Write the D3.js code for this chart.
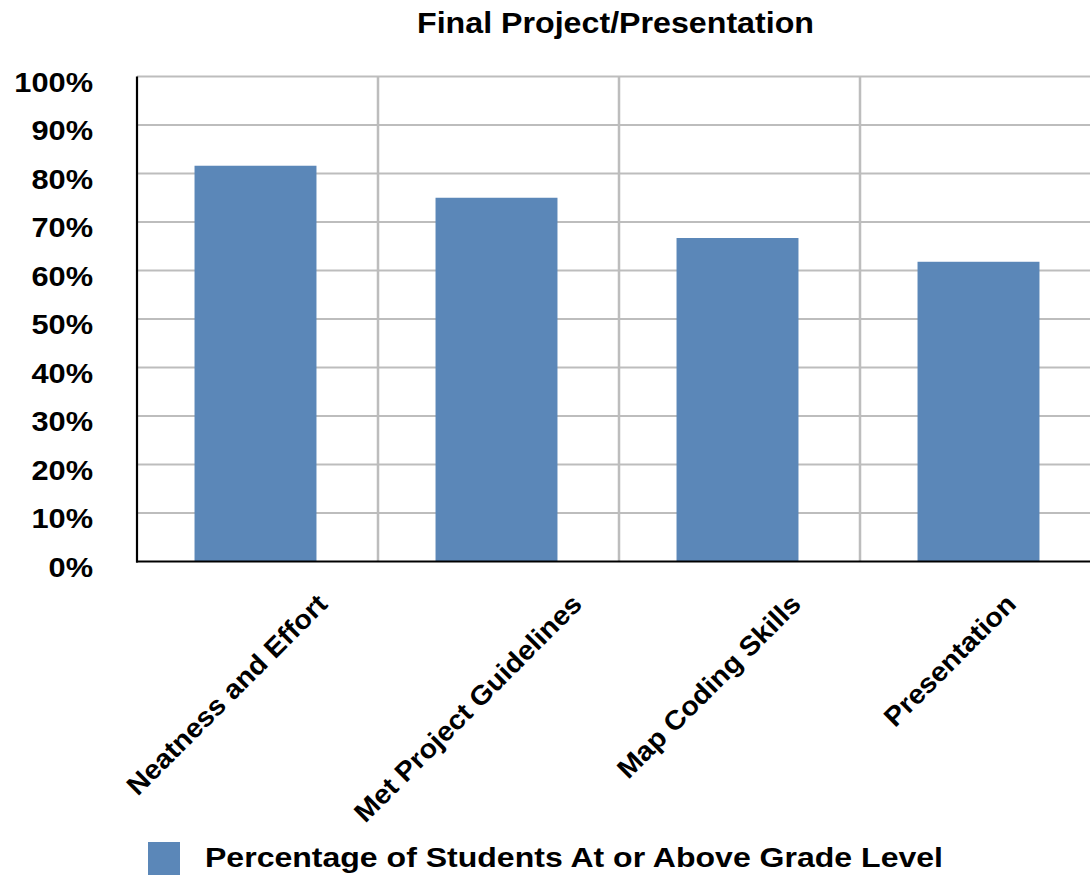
<!DOCTYPE html>
<html>
<head>
<meta charset="utf-8">
<script src="https://cdn.jsdelivr.net/npm/d3@7"></script>
<style>
  html, body { margin: 0; padding: 0; background: #fff; }
  svg { display: block; font-family: "Liberation Sans", Arial, Helvetica, sans-serif; font-weight: bold; }
</style>
</head>
<body>
<svg id="chart" width="1090" height="875"></svg>
<script>
// Final project results by criterion
const categories = ["Neatness and Effort", "Met Project Guidelines", "Map Coding Skills", "Presentation"];
const values = [81.6, 75, 66.7, 61.8];
const yTicks = [0, 10, 20, 30, 40, 50, 60, 70, 80, 90, 100];
const seriesName = "Percentage of Students At or Above Grade Level";
const chartTitle = "Final Project/Presentation";

const W = 1090, H = 875;
const plotLeft = 137, plotTop = 76.5, plotBottom = 561.5, step = 241;
const plotRight = plotLeft + step * categories.length;
const barColor = "#5b87b8";
const gridColor = "#bdbdbd";

const svg = d3.select("#chart");

// Category bands (gridlines sit on band boundaries)
const xCell = d3.scaleBand().domain(categories).range([plotLeft, plotRight]).padding(0);
// Bars occupy the middle half of each band
const x = d3.scaleBand().domain(categories).range([plotLeft, plotRight])
  .paddingInner(0.494).paddingOuter(0.247);
const y = d3.scaleLinear().domain([0, 100]).range([plotBottom, plotTop]);

const grid = svg.append("g");
grid.selectAll("line.h").data(yTicks.filter(d => d > 0)).join("line")
  .attr("x1", plotLeft).attr("x2", W)
  .attr("y1", d => y(d)).attr("y2", d => y(d))
  .attr("stroke", gridColor).attr("stroke-width", 2.2);
grid.selectAll("line.v").data(categories.slice(1)).join("line")
  .attr("x1", d => xCell(d)).attr("x2", d => xCell(d))
  .attr("y1", y(100)).attr("y2", plotBottom)
  .attr("stroke", gridColor).attr("stroke-width", 2.5);

// Bars
svg.append("g").selectAll("rect").data(categories).join("rect")
  .attr("x", d => x(d) - 2)
  .attr("width", x.bandwidth())
  .attr("y", (d, i) => y(values[i]))
  .attr("height", (d, i) => plotBottom - y(values[i]))
  .attr("fill", barColor);

// Axis lines
svg.append("line").attr("x1", plotLeft).attr("x2", plotLeft).attr("y1", y(100)).attr("y2", plotBottom + 1)
  .attr("stroke", "#000").attr("stroke-width", 2.2);
svg.append("line").attr("x1", plotLeft - 1).attr("x2", W).attr("y1", plotBottom).attr("y2", plotBottom)
  .attr("stroke", "#000").attr("stroke-width", 2.2);

// Y tick labels (slightly widened glyphs)
const tickStretch = 1.14;
const yAxis = d3.axisLeft(y).tickValues(yTicks).tickFormat(d => d + "%").tickSize(0).tickPadding(0);
const gy = svg.append("g").attr("transform", "translate(93,0)").call(yAxis);
gy.select(".domain").remove();
gy.selectAll(".tick text")
  .attr("x", 0).attr("dy", null).attr("y", 14.5)
  .attr("transform", `scale(${tickStretch},1)`)
  .attr("font-size", 27).attr("font-weight", "bold")
  .attr("font-family", "'Liberation Sans', Arial, sans-serif").attr("fill", "#000");

// X category labels, rotated 45° and hung below the axis
const labelStretch = 1.06, labelSize = 27, labelCap = labelSize * 0.72;
const labels = svg.append("g").selectAll("g").data(categories).join("g");
labels.append("text")
  .attr("text-anchor", "middle")
  .attr("dy", labelCap / 2)
  .attr("font-size", labelSize)
  .attr("fill", "#000")
  .attr("transform", `scale(${labelStretch},1)`)
  .text(d => d);
labels.attr("transform", function(d) {
  const L = this.querySelector("text").getComputedTextLength() * labelStretch;
  const half = (L + labelCap) * Math.SQRT1_2 / 2;
  const cx = xCell(d) + xCell.bandwidth() / 2 - 31;
  const cy = 592 + half;
  return `translate(${cx},${cy}) rotate(-45)`;
});

// Title
svg.append("text").attr("transform", "translate(615.5,33) scale(1.11,1)").attr("text-anchor", "middle")
  .attr("font-size", 29).attr("fill", "#000").text(chartTitle);

// Legend
svg.append("rect").attr("x", 148).attr("y", 842).attr("width", 32).attr("height", 33).attr("fill", barColor);
svg.append("text").attr("transform", "translate(205,867) scale(1.144,1)")
  .attr("font-size", 28).attr("fill", "#000").text(seriesName);
</script>
</body>
</html>
